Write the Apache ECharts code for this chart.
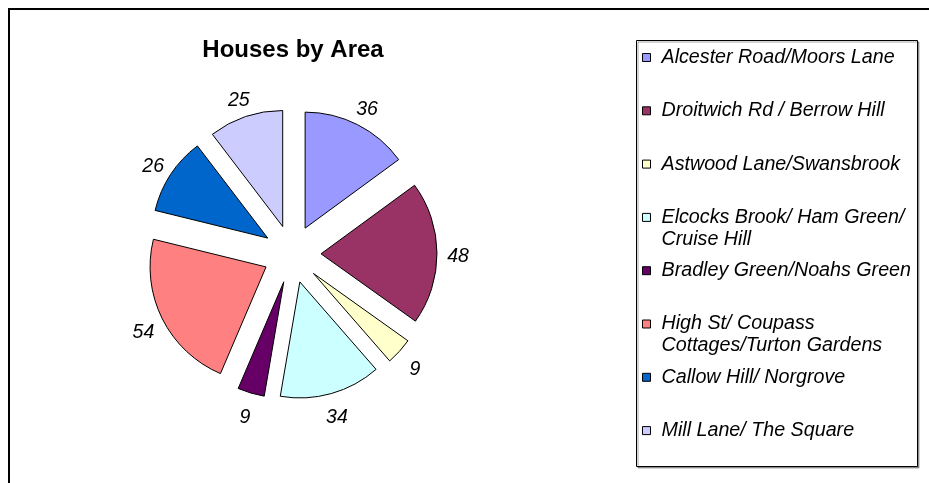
<!DOCTYPE html>
<html>
<head>
<meta charset="utf-8">
<script src="https://cdn.jsdelivr.net/npm/echarts@6/dist/echarts.min.js"></script>
<style>
  html, body { margin: 0; padding: 0; background: #fff; }
  #chart { width: 929px; height: 483px; }
</style>
</head>
<body>
<div id="chart"></div>
<script>
const areas = [
  'Alcester Road/Moors Lane',
  'Droitwich Rd / Berrow Hill',
  'Astwood Lane/Swansbrook',
  'Elcocks Brook/ Ham Green/ Cruise Hill',
  'Bradley Green/Noahs Green',
  'High St/ Coupass Cottages/Turton Gardens',
  'Callow Hill/ Norgrove',
  'Mill Lane/ The Square'
]
// three lines each (blank first line) so the icon lines up with the first real line
const legendLabels = [
  ' \nAlcester Road/Moors Lane\n ',
  ' \nDroitwich Rd / Berrow Hill\n ',
  ' \nAstwood Lane/Swansbrook\n ',
  ' \nElcocks Brook/ Ham Green/\nCruise Hill',
  ' \nBradley Green/Noahs Green\n ',
  ' \nHigh St/ Coupass\nCottages/Turton Gardens',
  ' \nCallow Hill/ Norgrove\n ',
  ' \nMill Lane/ The Square\n '
]
const houses = [36, 48, 9, 34, 9, 54, 26, 25]
const colors = ['#9999FF', '#993366', '#FFFFCC', '#CCFFFF', '#660066', '#FF8080', '#0066CC', '#CCCCFF']

const font = "'Liberation Sans', Arial, sans-serif"

const chart = echarts.init(document.getElementById('chart'))

const slices = areas.map((name, i) => ({ name, value: houses[i], selected: true }))

const option = {
  animation: false,
  color: colors,
  title: {
    text: 'Houses by Area',
    left: 288,
    textAlign: 'center',
    top: 33,
    textStyle: { fontFamily: font, fontSize: 24, fontWeight: 'bold', color: '#000' }
  },
  graphic: [
    {
      type: 'rect',
      z: 0,
      shape: { x: 9, y: 9, width: 1000, height: 1000 },
      style: { fill: 'none', stroke: '#000', lineWidth: 2 }
    },
    {
      type: 'rect',
      z: 0,
      shape: { x: 636.5, y: 40.5, width: 281, height: 426 },
      style: {
        fill: '#fff',
        stroke: '#000',
        lineWidth: 1,
        shadowColor: 'rgba(0,0,0,0.35)',
        shadowOffsetX: 1.5,
        shadowOffsetY: 1.5
      }
    }
  ],
  legend: {
    orient: 'vertical',
    left: 642,
    top: 24.5,
    padding: 0,
    itemGap: -12.7,
    itemWidth: 8,
    itemHeight: 8,
    icon: 'rect',
    selectedMode: false,
    data: areas,
    itemStyle: { borderColor: '#000', borderWidth: 1 },
    formatter (name) {
      return legendLabels[areas.indexOf(name)]
    },
    textStyle: {
      fontFamily: font,
      fontSize: 19.7,
      fontStyle: 'italic',
      color: '#000',
      lineHeight: 22,
      padding: [0, 0, 0, 6]
    }
  },
  series: [
    {
      type: 'pie',
      name: 'houses',
      center: [292, 254],
      radius: 116,
      startAngle: 90,
      clockwise: true,
      selectedMode: 'multiple',
      selectedOffset: 29,
      silent: true,
      itemStyle: { borderColor: '#000', borderWidth: 1 },
      label: { show: false },
      labelLine: { show: false },
      emphasis: { disabled: true },
      data: slices
    },
    {
      // invisible ring that only carries the value labels
      type: 'pie',
      name: 'labels',
      center: [292, 258],
      radius: [118, 150],
      startAngle: 90,
      clockwise: true,
      selectedMode: 'multiple',
      selectedOffset: 29,
      silent: true,
      avoidLabelOverlap: false,
      itemStyle: { color: 'rgba(0,0,0,0)', borderWidth: 0 },
      label: {
        show: true,
        position: 'inside',
        formatter: '{c}',
        fontFamily: font,
        fontSize: 19.5,
        fontStyle: 'italic',
        color: '#000'
      },
      labelLine: { show: false },
      emphasis: { disabled: true },
      data: slices
    }
  ]
}

chart.setOption(option)
</script>
</body>
</html>
